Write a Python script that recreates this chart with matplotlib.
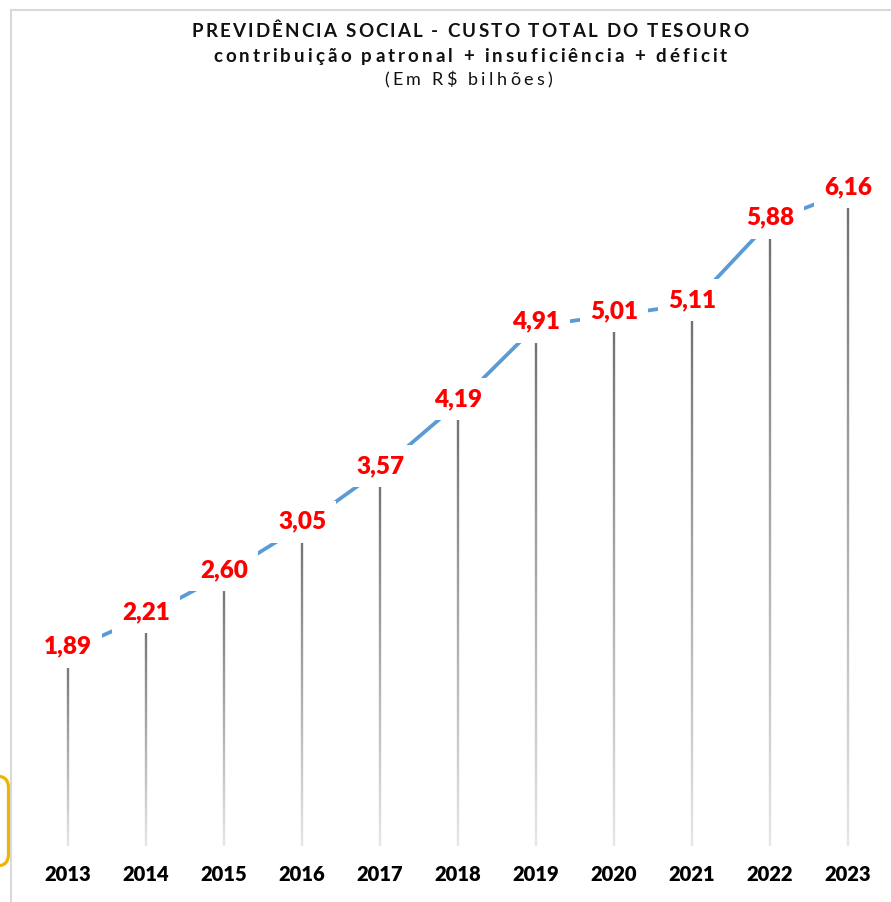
import numpy as np
import matplotlib
matplotlib.use("Agg")
import matplotlib.pyplot as plt
from matplotlib.collections import LineCollection
from matplotlib.colors import to_rgb
from matplotlib.patches import FancyBboxPatch
from matplotlib.lines import Line2D
from matplotlib.transforms import IdentityTransform

# ---- data ----
years = ["2013", "2014", "2015", "2016", "2017", "2018",
         "2019", "2020", "2021", "2022", "2023"]
custo_total = [1.89, 2.21, 2.60, 3.05, 3.57, 4.19, 4.91, 5.01, 5.11, 5.88, 6.16]
title_lines = [
    "PREVIDÊNCIA SOCIAL - CUSTO TOTAL DO TESOURO",
    "contribuição patronal + insuficiência + déficit",
    "(Em R$ bilhões)",
]

W, H = 891, 902
FONT = ["Lato", "DejaVu Sans"]
plt.rcParams["font.family"] = FONT

fig = plt.figure(figsize=(W / 100, H / 100), dpi=100)


def fx(px):
    return px / W


def fy(py):
    return 1 - py / H


# ---- plot area ----
ax = fig.add_axes([fx(29), fy(846), fx(887) - fx(29), fy(100) - fy(846)])
x = np.arange(len(years))
ax.set_xlim(-0.5, len(years) - 0.5)
ax.set_ylim(0.075, 7.01)
ymin = ax.get_ylim()[0]

# drop lines with a vertical grey gradient
top_c = np.array(to_rgb("#6e6e6e"))
bot_c = np.array(to_rgb("#e6e6e6"))
nseg = 80
segs, cols = [], []
for xi, v in zip(x, custo_total):
    ys = np.linspace(v, ymin, nseg + 1)
    for k in range(nseg):
        segs.append([(xi, ys[k]), (xi, ys[k + 1])])
        t = (k + 0.5) / nseg
        cols.append(top_c * (1 - t) + bot_c * t)
ax.add_collection(LineCollection(segs, colors=cols, linewidths=1.7,
                                 capstyle="butt", zorder=1))

# main line
ax.plot(x, custo_total, color="#5B9BD5", lw=2.7, solid_capstyle="round", zorder=2)

# value labels on white boxes
for xi, v in zip(x, custo_total):
    lbl = f"{v:.2f}".replace(".", ",")
    ax.annotate(lbl, (xi, v), xytext=(0, -2), textcoords="offset points",
                ha="center", va="baseline", fontsize=17.5, fontweight="heavy",
                color="#FF0000", zorder=4,
                bbox=dict(boxstyle="square,pad=0.42", fc="white", ec="none"))

ax.set_xticks(x, years)
ax.tick_params(axis="x", length=0, pad=14, labelsize=14.5)
for t in ax.get_xticklabels():
    t.set_fontweight("heavy")
    t.set_color("#000000")
ax.set_yticks([])
for s in ax.spines.values():
    s.set_visible(False)
ax.patch.set_alpha(0)

# ---- title with letter spacing ----
renderer = fig.canvas.get_renderer()


def glyph_width(ch, **kw):
    t1 = fig.text(0, 0, "x" + ch + "x", **kw)
    w1 = t1.get_window_extent(renderer).width
    t1.remove()
    t0 = fig.text(0, 0, "xx", **kw)
    w0 = t0.get_window_extent(renderer).width
    t0.remove()
    return w1 - w0


def spaced_text(s, cx, baseline, total_width, **kw):
    widths = [glyph_width(ch, **kw) for ch in s]
    gap = (total_width - sum(widths)) / (len(s) - 1)
    xpos = cx - total_width / 2
    for ch, w in zip(s, widths):
        fig.text(fx(xpos), fy(baseline), ch, ha="left", va="baseline", **kw)
        xpos += w + gap


spaced_text(title_lines[0], 470, 37, 557, fontsize=13.5, fontweight="bold", color="#111111")
spaced_text(title_lines[1], 470, 62, 514, fontsize=13.5, fontweight="bold", color="#111111")
spaced_text(title_lines[2], 468, 85, 168, fontsize=13, color="#111111")

# ---- chart frame and selection outline ----
fig.add_artist(Line2D([fx(10.5), fx(10.5)], [fy(9.5), 0], color="#d9d9d9", lw=1.5))
fig.add_artist(Line2D([fx(10.5), 1], [fy(9.5), fy(9.5)], color="#d9d9d9", lw=1.5))
sel = FancyBboxPatch((-30, H - 866), 38.5, 90,
                     boxstyle="round,pad=0,rounding_size=12",
                     fc="none", ec="#F0B400", lw=2.3, transform=IdentityTransform())
fig.add_artist(sel)

fig.savefig("out.png", dpi=100)
